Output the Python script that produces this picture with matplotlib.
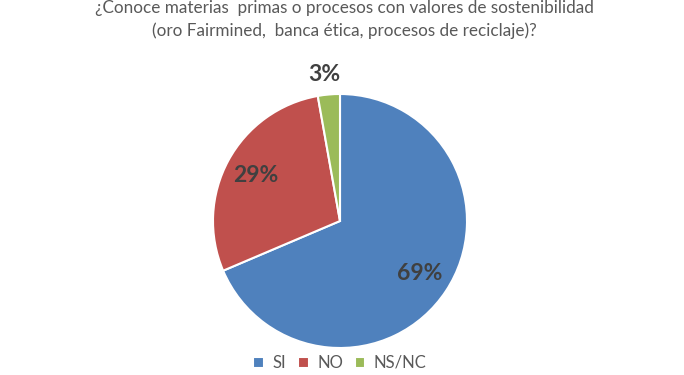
import numpy as np
import matplotlib
matplotlib.use("Agg")
import matplotlib.pyplot as plt

categories = ["SI", "NO", "NS/NC"]
values = [68.6, 28.6, 2.8]
colors = ["#4F81BD", "#C0504D", "#9BBB59"]
title = "¿Conoce materias  primas o procesos con valores de sostenibilidad\n(oro Fairmined,  banca ética, procesos de reciclaje)?"

plt.rcParams['font.family'] = ['Lato', 'DejaVu Sans']
W, H = 684, 375
fig = plt.figure(figsize=(W/100, H/100), dpi=100)
fig.patch.set_facecolor("white")

cx, cy, r = 340, 221, 127
ax = fig.add_axes([(cx - r)/W, (H - cy - r)/H, 2*r/W, 2*r/H])
wedges, texts, autotexts = ax.pie(
    values, colors=colors, startangle=90, counterclock=False,
    autopct='%.0f%%', pctdistance=0.75,
    wedgeprops=dict(edgecolor="white", linewidth=1.5),
    textprops=dict(fontsize=16.5, fontweight="bold", color="#404040"))
# small slice label outside
w = wedges[2]
ang = np.deg2rad((w.theta1 + w.theta2) / 2)
autotexts[2].set_position((1.16*np.cos(ang) - 0.02, 1.16*np.sin(ang)))
ax.set_xlim(-1, 1)
ax.set_ylim(-1, 1)
ax.set_aspect("equal")
ax.axis("off")

fig.text(0.504, 1 - 19.5/H, title, ha="center", va="center", fontsize=12.3,
         color="#595959", linespacing=1.42)

leg = fig.legend(wedges, categories, loc="center", bbox_to_anchor=(0.497, 1 - 363/H),
                 ncol=3, frameon=False, fontsize=12, handlelength=0.65, handleheight=0.65,
                 handletextpad=0.5, columnspacing=0.7, labelcolor="#595959")
fig.savefig("out.png", dpi=100)
